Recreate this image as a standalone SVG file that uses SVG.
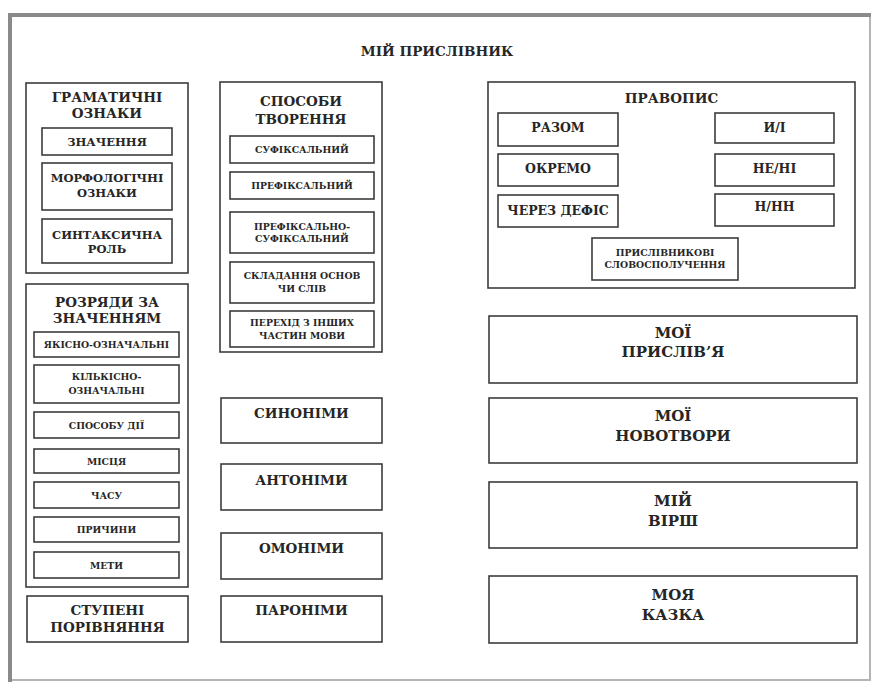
<svg xmlns="http://www.w3.org/2000/svg" width="875" height="682" viewBox="0 0 875 682">
<style>
.bx{fill:#fff;stroke:#3c3c3c;stroke-width:1.6}
text{font-family:"DejaVu Serif","Liberation Serif",serif;font-weight:bold;fill:#262626;text-anchor:middle}
.t{font-size:13.5px}
.h{font-size:13.5px}
.b{font-size:15px}
.m{font-size:11.5px}
.r{font-size:12.5px}
.s{font-size:9.3px}
</style>
<rect x="0" y="0" width="875" height="682" fill="#fff"/>
<g id="frame">
<rect x="10" y="15" width="860" height="665" fill="#fff" stroke="#b4b4b4" stroke-width="2"/>
<path d="M10 682 V15 H871" fill="none" stroke="#8a8a8a" stroke-width="4"/>
</g>
<text class="t" x="437" y="56">МІЙ ПРИСЛІВНИК</text>
<g id="connectors"></g>

<g id="gramatychni">
<rect class="bx" x="26" y="83" width="162" height="190"/>
<text class="h" x="107" y="102">ГРАМАТИЧНІ</text>
<text class="h" x="107" y="118">ОЗНАКИ</text>
</g>
<g id="znachennia"><rect class="bx" x="42" y="128" width="130" height="27"/><text class="m" x="107" y="146">ЗНАЧЕННЯ</text></g>
<g id="morfologichni"><rect class="bx" x="42" y="163" width="130" height="47"/><text class="m" x="107" y="182">МОРФОЛОГІЧНІ</text><text class="m" x="107" y="197">ОЗНАКИ</text></g>
<g id="syntaksychna"><rect class="bx" x="42" y="219" width="130" height="44"/><text class="m" x="107" y="239">СИНТАКСИЧНА</text><text class="m" x="107" y="253">РОЛЬ</text></g>

<g id="rozriady">
<rect class="bx" x="26" y="284" width="162" height="303"/>
<text class="h" x="107" y="307">РОЗРЯДИ ЗА</text>
<text class="h" x="107" y="323">ЗНАЧЕННЯМ</text>
</g>
<g id="yakisno"><rect class="bx" x="34" y="332" width="145" height="25"/><text class="s" x="106.5" y="348">ЯКІСНО-ОЗНАЧАЛЬНІ</text></g>
<g id="kilkisno"><rect class="bx" x="34" y="365" width="145" height="38"/><text class="s" x="106.5" y="380">КІЛЬКІСНО-</text><text class="s" x="106.5" y="394">ОЗНАЧАЛЬНІ</text></g>
<g id="sposobu"><rect class="bx" x="34" y="412" width="145" height="26"/><text class="s" x="106.5" y="429">СПОСОБУ ДІЇ</text></g>
<g id="mistsia"><rect class="bx" x="34" y="449" width="145" height="24"/><text class="s" x="106.5" y="465">МІСЦЯ</text></g>
<g id="chasu"><rect class="bx" x="34" y="482" width="145" height="26"/><text class="s" x="106.5" y="499">ЧАСУ</text></g>
<g id="prychyny"><rect class="bx" x="34" y="517" width="145" height="25"/><text class="s" x="106.5" y="533">ПРИЧИНИ</text></g>
<g id="mety"><rect class="bx" x="34" y="552" width="145" height="26"/><text class="s" x="106.5" y="569">МЕТИ</text></g>

<g id="stupeni"><rect class="bx" x="27" y="596" width="161" height="46"/><text class="h" x="107.5" y="615">СТУПЕНІ</text><text class="h" x="107.5" y="632">ПОРІВНЯННЯ</text></g>

<g id="sposoby">
<rect class="bx" x="220" y="82" width="162" height="270"/>
<text class="h" x="301" y="106">СПОСОБИ</text>
<text class="h" x="301" y="124">ТВОРЕННЯ</text>
</g>
<g id="sufiksalnyi"><rect class="bx" x="230" y="136" width="144" height="27"/><text class="s" x="302" y="153">СУФІКСАЛЬНИЙ</text></g>
<g id="prefiksalnyi"><rect class="bx" x="230" y="172" width="144" height="27"/><text class="s" x="302" y="189">ПРЕФІКСАЛЬНИЙ</text></g>
<g id="pref-suf"><rect class="bx" x="230" y="212" width="144" height="41"/><text class="s" x="302" y="230">ПРЕФІКСАЛЬНО-</text><text class="s" x="302" y="242">СУФІКСАЛЬНИЙ</text></g>
<g id="skladannia"><rect class="bx" x="230" y="262" width="144" height="41"/><text class="s" x="302" y="279">СКЛАДАННЯ ОСНОВ</text><text class="s" x="302" y="292">ЧИ СЛІВ</text></g>
<g id="perekhid"><rect class="bx" x="230" y="311" width="144" height="36"/><text class="s" x="302" y="326">ПЕРЕХІД З ІНШИХ</text><text class="s" x="302" y="339">ЧАСТИН МОВИ</text></g>

<g id="synonimy"><rect class="bx" x="221" y="398" width="161" height="45"/><text class="h" x="301.5" y="418">СИНОНІМИ</text></g>
<g id="antonimy"><rect class="bx" x="221" y="464" width="161" height="46"/><text class="h" x="301.5" y="485">АНТОНІМИ</text></g>
<g id="omonimy"><rect class="bx" x="221" y="533" width="161" height="46"/><text class="h" x="301.5" y="553">ОМОНІМИ</text></g>
<g id="paronimy"><rect class="bx" x="221" y="596" width="161" height="46"/><text class="h" x="301.5" y="615">ПАРОНІМИ</text></g>

<g id="pravopys">
<rect class="bx" x="488" y="82" width="367" height="206"/>
<text class="h" x="671.5" y="103">ПРАВОПИС</text>
</g>
<g id="razom"><rect class="bx" x="498" y="113" width="120" height="33"/><text class="r" x="558" y="132">РАЗОМ</text></g>
<g id="okremo"><rect class="bx" x="498" y="154" width="120" height="32"/><text class="r" x="558" y="173">ОКРЕМО</text></g>
<g id="defis"><rect class="bx" x="498" y="195" width="120" height="32"/><text class="r" x="558" y="215">ЧЕРЕЗ ДЕФІС</text></g>
<g id="y-i"><rect class="bx" x="715" y="113" width="119" height="30"/><text class="r" x="774.5" y="132">И/І</text></g>
<g id="ne-ni"><rect class="bx" x="715" y="154" width="119" height="32"/><text class="r" x="774.5" y="173">НЕ/НІ</text></g>
<g id="n-nn"><rect class="bx" x="715" y="194" width="119" height="32"/><text class="r" x="774.5" y="211">Н/НН</text></g>
<g id="slovospoluchennia"><rect class="bx" x="592" y="238" width="146" height="42"/><text class="s" x="665" y="256">ПРИСЛІВНИКОВІ</text><text class="s" x="665" y="268">СЛОВОСПОЛУЧЕННЯ</text></g>

<g id="pryslivia"><rect class="bx" x="489" y="316" width="368" height="67"/><text class="b" x="673" y="338">МОЇ</text><text class="b" x="673" y="357">ПРИСЛІВ’Я</text></g>
<g id="novotvory"><rect class="bx" x="489" y="398" width="368" height="65"/><text class="b" x="673" y="421">МОЇ</text><text class="b" x="673" y="441">НОВОТВОРИ</text></g>
<g id="virsh"><rect class="bx" x="489" y="482" width="368" height="66"/><text class="b" x="673" y="506">МІЙ</text><text class="b" x="673" y="526">ВІРШ</text></g>
<g id="kazka"><rect class="bx" x="489" y="576" width="368" height="67"/><text class="b" x="673" y="600">МОЯ</text><text class="b" x="673" y="620">КАЗКА</text></g>
</svg>
